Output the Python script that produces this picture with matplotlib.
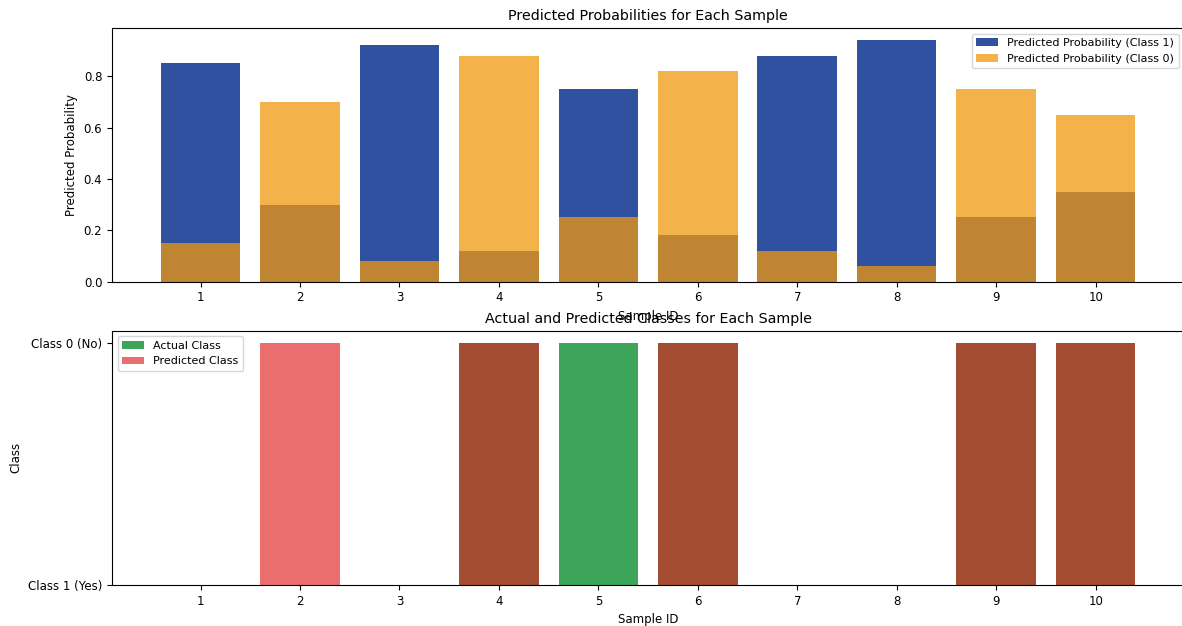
import matplotlib
matplotlib.use("Agg")
import matplotlib.pyplot as plt
import numpy as np

sample_ids = [1, 2, 3, 4, 5, 6, 7, 8, 9, 10]
prob_class1 = [0.85, 0.30, 0.92, 0.12, 0.75, 0.18, 0.88, 0.94, 0.25, 0.35]
prob_class0 = [0.15, 0.70, 0.08, 0.88, 0.25, 0.82, 0.12, 0.06, 0.75, 0.65]
actual_class = [0, 0, 0, 1, 1, 1, 0, 0, 1, 1]
predicted_class = [0, 1, 0, 1, 0, 1, 0, 0, 1, 1]
class_tick_labels = ['Class 1 (Yes)', 'Class 0 (No)']

fig = plt.figure(figsize=(11.82, 6.26), dpi=100)
ax1 = fig.add_axes([0.0948, 0.55, 0.907, 0.405])
ax2 = fig.add_axes([0.0948, 0.0655, 0.907, 0.406])

ax1.bar(sample_ids, prob_class1, color='#3050a0', label='Predicted Probability (Class 1)')
ax1.bar(sample_ids, prob_class0, color='#f1980d', alpha=0.75, label='Predicted Probability (Class 0)')
ax1.set_title('Predicted Probabilities for Each Sample', fontsize=10.3)
ax1.set_xlabel('Sample ID', fontsize=8.5)
ax1.set_ylabel('Predicted Probability', fontsize=8.5)
ax1.set_xticks(sample_ids)
ax1.tick_params(labelsize=8.5)
ax1.legend(loc='upper right', fontsize=8)

ax2.bar(sample_ids, actual_class, color='#3ca55a', label='Actual Class')
ax2.bar(sample_ids, predicted_class, color='#e01919', alpha=0.63, label='Predicted Class')
ax2.set_title('Actual and Predicted Classes for Each Sample', fontsize=10.3)
ax2.set_xlabel('Sample ID', fontsize=8.5)
ax2.set_ylabel('Class', fontsize=8.5)
ax2.set_xticks(sample_ids)
ax2.set_yticks([0, 1])
ax2.set_yticklabels(class_tick_labels)
ax2.tick_params(labelsize=8.5)
ax2.legend(loc='upper left', fontsize=8)

fig.savefig('out.png', dpi=100)
